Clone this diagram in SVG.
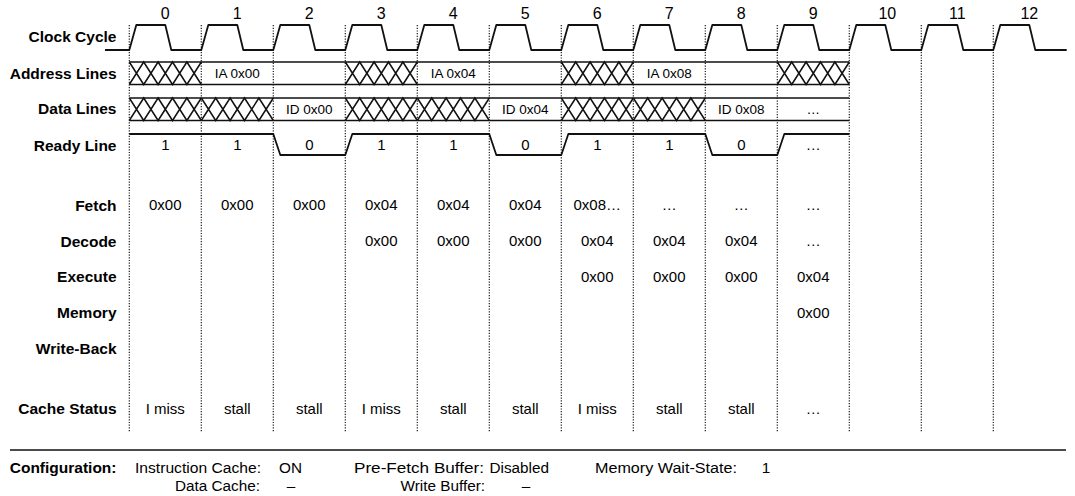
<svg xmlns="http://www.w3.org/2000/svg" width="1075" height="496" viewBox="0 0 1075 496">
<style>
.lbl{font-family:"Liberation Sans",Arial,sans-serif;font-weight:bold;font-size:15.5px;fill:#000;text-anchor:end}
.val{font-family:"Liberation Sans",Arial,sans-serif;font-size:15px;fill:#000;text-anchor:middle}
.num{font-family:"Liberation Sans",Arial,sans-serif;font-size:16px;fill:#000;text-anchor:middle}
.bus{font-family:"Liberation Sans",Arial,sans-serif;font-size:13.5px;fill:#000;text-anchor:middle}
.cfg{font-family:"Liberation Sans",Arial,sans-serif;font-size:15.3px;fill:#000}
.sig{fill:none;stroke:#111;stroke-width:1.8;stroke-linejoin:round}
.bl{fill:none;stroke:#111;stroke-width:1.4}
.grid{fill:none;stroke:#1a1a1a;stroke-width:1.2;stroke-dasharray:1.2 1.5}
</style>
<defs>
<path id="hx" d="M0,0 L14.4,22.5 L28.8,0 L43.2,22.5 L57.6,0 L72,22.5 M0,22.5 L14.4,0 L28.8,22.5 L43.2,0 L57.6,22.5 L72,0" fill="none" stroke="#111" stroke-width="1.5"/>
</defs>

<g id="cycle-numbers">
<text class="num" x="165.3" y="19">0</text>
<text class="num" x="237.3" y="19">1</text>
<text class="num" x="309.3" y="19">2</text>
<text class="num" x="381.3" y="19">3</text>
<text class="num" x="453.3" y="19">4</text>
<text class="num" x="525.3" y="19">5</text>
<text class="num" x="597.3" y="19">6</text>
<text class="num" x="669.3" y="19">7</text>
<text class="num" x="741.3" y="19">8</text>
<text class="num" x="813.3" y="19">9</text>
<text class="num" x="887.3" y="19">10</text>
<text class="num" x="957.3" y="19">11</text>
<text class="num" x="1029.3" y="19">12</text>
</g>

<g id="row-labels">
<text class="lbl" x="116.5" y="42.2">Clock Cycle</text>
<text class="lbl" x="116.5" y="78.8">Address Lines</text>
<text class="lbl" x="116.5" y="113.8">Data Lines</text>
<text class="lbl" x="116.5" y="150.5">Ready Line</text>
<text class="lbl" x="116.5" y="210.5">Fetch</text>
<text class="lbl" x="116.5" y="246.5">Decode</text>
<text class="lbl" x="116.5" y="282.3">Execute</text>
<text class="lbl" x="116.5" y="318.3">Memory</text>
<text class="lbl" x="116.5" y="354">Write-Back</text>
<text class="lbl" x="116.5" y="413.8">Cache Status</text>
</g>

<g id="grid-lines">
<line class="grid" x1="129.3" y1="25" x2="129.3" y2="432"/>
<line class="grid" x1="201.3" y1="25" x2="201.3" y2="432"/>
<line class="grid" x1="273.3" y1="25" x2="273.3" y2="432"/>
<line class="grid" x1="345.3" y1="25" x2="345.3" y2="432"/>
<line class="grid" x1="417.3" y1="25" x2="417.3" y2="432"/>
<line class="grid" x1="489.3" y1="25" x2="489.3" y2="432"/>
<line class="grid" x1="561.3" y1="25" x2="561.3" y2="432"/>
<line class="grid" x1="633.3" y1="25" x2="633.3" y2="432"/>
<line class="grid" x1="705.3" y1="25" x2="705.3" y2="432"/>
<line class="grid" x1="777.3" y1="25" x2="777.3" y2="432"/>
<line class="grid" x1="849.3" y1="25" x2="849.3" y2="432"/>
<line class="grid" x1="921.3" y1="25" x2="921.3" y2="432"/>
<line class="grid" x1="993.3" y1="25" x2="993.3" y2="432"/>
</g>

<g id="clock-signal">
<path class="sig" d="M105,50 H129.3 l7,-25 h29 l6,25 h30 l7,-25 h29 l6,25 h30 l7,-25 h29 l6,25 h30 l7,-25 h29 l6,25 h30 l7,-25 h29 l6,25 h30 l7,-25 h29 l6,25 h30 l7,-25 h29 l6,25 h30 l7,-25 h29 l6,25 h30 l7,-25 h29 l6,25 h30 l7,-25 h29 l6,25 h30 l7,-25 h29 l6,25 h30 l7,-25 h29 l6,25 h30 l7,-25 h29 l6,25 h31.4"/>
</g>

<g id="address-bus">
<line class="bl" x1="129.3" y1="62" x2="849.3" y2="62"/>
<line class="bl" x1="129.3" y1="84.5" x2="849.3" y2="84.5"/>
<use href="#hx" x="129.3" y="62"/>
<use href="#hx" x="345.3" y="62"/>
<use href="#hx" x="561.3" y="62"/>
<use href="#hx" x="777.3" y="62"/>
<text class="bus" x="237.3" y="78">IA 0x00</text>
<text class="bus" x="453.3" y="78">IA 0x04</text>
<text class="bus" x="669.3" y="78">IA 0x08</text>
</g>

<g id="data-bus">
<line class="bl" x1="129.3" y1="98" x2="849.3" y2="98"/>
<line class="bl" x1="129.3" y1="120.5" x2="849.3" y2="120.5"/>
<use href="#hx" x="129.3" y="98"/>
<use href="#hx" x="201.3" y="98"/>
<use href="#hx" x="345.3" y="98"/>
<use href="#hx" x="417.3" y="98"/>
<use href="#hx" x="561.3" y="98"/>
<use href="#hx" x="633.3" y="98"/>
<text class="bus" x="309.3" y="113.5">ID 0x00</text>
<text class="bus" x="525.3" y="113.5">ID 0x04</text>
<text class="bus" x="741.3" y="113.5">ID 0x08</text>
<text class="bus" x="813.3" y="113.5">…</text>
</g>

<g id="ready-line">
<path class="sig" d="M129.3,134 H273.3 l7,21 H345.3 l7,-21 H489.3 l7,21 H561.3 l7,-21 H705.3 l7,21 H777.3 l7,-21 H849.3"/>
<text class="val" x="165.3" y="150.4">1</text>
<text class="val" x="237.3" y="150.4">1</text>
<text class="val" x="309.3" y="150.4">0</text>
<text class="val" x="381.3" y="150.4">1</text>
<text class="val" x="453.3" y="150.4">1</text>
<text class="val" x="525.3" y="150.4">0</text>
<text class="val" x="597.3" y="150.4">1</text>
<text class="val" x="669.3" y="150.4">1</text>
<text class="val" x="741.3" y="150.4">0</text>
<text class="val" x="813.3" y="150.4">…</text>
</g>

<g id="fetch-row">
<text class="val" x="165.3" y="210.4">0x00</text>
<text class="val" x="237.3" y="210.4">0x00</text>
<text class="val" x="309.3" y="210.4">0x00</text>
<text class="val" x="381.3" y="210.4">0x04</text>
<text class="val" x="453.3" y="210.4">0x04</text>
<text class="val" x="525.3" y="210.4">0x04</text>
<text class="val" x="597.3" y="210.4">0x08…</text>
<text class="val" x="669.3" y="210.4">…</text>
<text class="val" x="741.3" y="210.4">…</text>
<text class="val" x="813.3" y="210.4">…</text>
</g>

<g id="decode-row">
<text class="val" x="381.3" y="246.4">0x00</text>
<text class="val" x="453.3" y="246.4">0x00</text>
<text class="val" x="525.3" y="246.4">0x00</text>
<text class="val" x="597.3" y="246.4">0x04</text>
<text class="val" x="669.3" y="246.4">0x04</text>
<text class="val" x="741.3" y="246.4">0x04</text>
<text class="val" x="813.3" y="246.4">…</text>
</g>

<g id="execute-row">
<text class="val" x="597.3" y="282.2">0x00</text>
<text class="val" x="669.3" y="282.2">0x00</text>
<text class="val" x="741.3" y="282.2">0x00</text>
<text class="val" x="813.3" y="282.2">0x04</text>
</g>

<g id="memory-row">
<text class="val" x="813.3" y="318.2">0x00</text>
</g>

<g id="cache-status-row">
<text class="val" x="165.3" y="413.7">I miss</text>
<text class="val" x="237.3" y="413.7">stall</text>
<text class="val" x="309.3" y="413.7">stall</text>
<text class="val" x="381.3" y="413.7">I miss</text>
<text class="val" x="453.3" y="413.7">stall</text>
<text class="val" x="525.3" y="413.7">stall</text>
<text class="val" x="597.3" y="413.7">I miss</text>
<text class="val" x="669.3" y="413.7">stall</text>
<text class="val" x="741.3" y="413.7">stall</text>
<text class="val" x="813.3" y="413.7">…</text>
</g>

<g id="separator">
<line x1="10" y1="450" x2="1066" y2="450" stroke="#111" stroke-width="1.5"/>
</g>

<g id="configuration">
<text class="lbl" x="116.5" y="472.8">Configuration:</text>
<text class="cfg" x="135" y="472.8" textLength="126" lengthAdjust="spacingAndGlyphs">Instruction Cache:</text>
<text class="cfg" x="279" y="472.8">ON</text>
<text class="cfg" x="260" y="490.5" text-anchor="end">Data Cache:</text>
<text class="cfg" x="291" y="490.5" text-anchor="middle">–</text>
<text class="cfg" x="354" y="472.8" textLength="130" lengthAdjust="spacingAndGlyphs">Pre-Fetch Buffer:</text>
<text class="cfg" x="489.5" y="472.8">Disabled</text>
<text class="cfg" x="485" y="490.5" text-anchor="end">Write Buffer:</text>
<text class="cfg" x="526" y="490.5" text-anchor="middle">–</text>
<text class="cfg" x="595" y="472.8" textLength="142" lengthAdjust="spacingAndGlyphs">Memory Wait-State:</text>
<text class="cfg" x="766" y="472.8" text-anchor="middle">1</text>
</g>
</svg>
